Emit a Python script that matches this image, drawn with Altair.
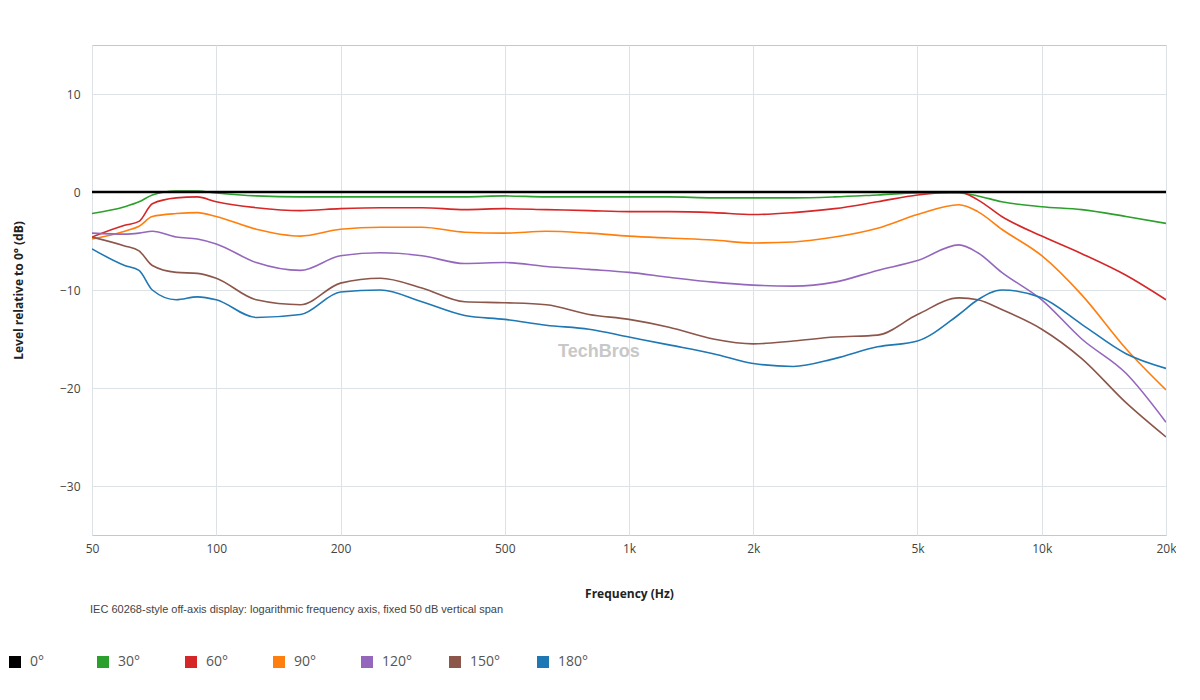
import altair as alt
import pandas as pd

angles = ["0°", "30°", "60°", "90°", "120°", "150°", "180°"]
colors = ["#000000", "#2ca02c", "#d62728", "#ff7f0e", "#9467bd", "#8c564b", "#1f77b4"]

freq = [50, 60, 65, 70, 80, 90, 100, 125, 160, 200, 250, 315, 400, 500, 630, 800,
        1000, 1250, 1600, 2000, 2500, 3150, 4000, 5000, 6300, 7000, 8000, 10000,
        12500, 16000, 20000]

lvl_0 = [0] * len(freq)
lvl_30 = [-2.2, -1.5, -1.0, -0.3, 0.1, 0.1, -0.1, -0.4, -0.5, -0.5, -0.5, -0.5, -0.5, -0.4, -0.5, -0.5,
          -0.5, -0.5, -0.6, -0.6, -0.6, -0.5, -0.3, -0.1, -0.1, -0.4, -1.0, -1.5,
          -1.8, -2.5, -3.2]
lvl_60 = [-4.6, -3.4, -3.0, -1.2, -0.6, -0.5, -1.0, -1.6, -1.9, -1.7, -1.6, -1.6, -1.8, -1.7, -1.8, -1.9,
          -2.0, -2.0, -2.1, -2.3, -2.1, -1.7, -1.0, -0.3, 0.0, -0.8, -2.5, -4.5,
          -6.3, -8.5, -11.0]
lvl_90 = [-4.8, -4.0, -3.5, -2.5, -2.2, -2.1, -2.5, -3.8, -4.5, -3.8, -3.6, -3.6, -4.1, -4.2, -4.0, -4.2,
          -4.5, -4.7, -4.9, -5.2, -5.1, -4.6, -3.7, -2.3, -1.3, -2.0, -3.8, -6.5,
          -10.5, -16.0, -20.2]
lvl_120 = [-4.2, -4.3, -4.2, -4.0, -4.6, -4.8, -5.3, -7.2, -8.0, -6.5, -6.2, -6.5, -7.3, -7.2, -7.6, -7.9,
           -8.2, -8.7, -9.2, -9.5, -9.6, -9.2, -8.0, -7.0, -5.4, -6.2, -8.2, -11.0,
           -15.0, -18.5, -23.5]
lvl_150 = [-4.6, -5.5, -6.0, -7.5, -8.2, -8.3, -8.8, -11.0, -11.5, -9.3, -8.8, -9.8, -11.2, -11.3, -11.5, -12.5,
           -13.0, -13.8, -15.0, -15.5, -15.2, -14.8, -14.6, -12.5, -10.8, -11.0, -12.0, -14.0,
           -17.0, -21.5, -25.0]
lvl_180 = [-5.8, -7.5, -8.0, -10.0, -11.0, -10.7, -11.0, -12.8, -12.5, -10.2, -10.0, -11.2, -12.6, -13.0, -13.6, -14.0,
           -14.8, -15.6, -16.5, -17.5, -17.8, -17.0, -15.8, -15.2, -12.5, -11.0, -10.0, -10.8,
           -13.5, -16.5, -18.0]

series = [lvl_0, lvl_30, lvl_60, lvl_90, lvl_120, lvl_150, lvl_180]
rows = []
for a, vals in zip(angles, series):
    for f, v in zip(freq, vals):
        rows.append({"Frequency": f, "Level": v, "Angle": a})
df = pd.DataFrame(rows)

tick_vals = [50, 100, 200, 500, 1000, 2000, 5000, 10000, 20000]

base = alt.Chart(df).encode(
    x=alt.X("Frequency:Q", title="Frequency (Hz)",
            scale=alt.Scale(type="log", domain=[50, 20000], nice=False),
            axis=alt.Axis(values=tick_vals, titlePadding=34, labelPadding=8, labelFlush=False,
                          labelExpr="datum.value >= 1000 ? (datum.value / 1000) + 'k' : datum.value")),
    y=alt.Y("Level:Q", title="Level relative to 0° (dB)",
            scale=alt.Scale(domain=[-35, 15], nice=False),
            axis=alt.Axis(values=[-30, -20, -10, 0, 10], titlePadding=34, labelPadding=12)),
)

others = base.transform_filter(alt.datum.Angle != "0°").mark_line(
    interpolate="monotone", clip=True, strokeWidth=1.6).encode(
    color=alt.Color("Angle:N", sort=angles, title=None,
                    scale=alt.Scale(domain=angles, range=colors),
                    legend=alt.Legend(orient="none", legendX=-84, legendY=610, direction="horizontal",
                                      columns=7, symbolType="square", symbolSize=36, symbolStrokeWidth=6,
                                      labelFontSize=14, labelColor="#555", columnPadding=27,
                                      gridAlign="all", labelOffset=8)),
)
ref = base.transform_filter(alt.datum.Angle == "0°").mark_line(
    clip=True, strokeWidth=2.5, color="#000000")

watermark = alt.Chart(pd.DataFrame({"t": ["TechBros"]})).mark_text(
    fontSize=18, color="#c8c8c8", fontWeight="bold", align="left"
).encode(x=alt.value(466), y=alt.value(307), text="t:N")

caption = alt.Chart(pd.DataFrame({"t": ["IEC 60268-style off-axis display: logarithmic frequency axis, fixed 50 dB vertical span"]})).mark_text(
    fontSize=11, color="#444", align="left"
).encode(x=alt.value(-2), y=alt.value(565), text="t:N")

chart = alt.layer(others, ref, watermark, caption).properties(
    width=1074, height=490,
    autosize=alt.AutoSizeParams(type="none"),
    padding={"left": 84, "top": 37, "right": 10, "bottom": 160},
).configure_view(stroke="#c0c8d0").configure_axis(
    gridColor="#dde2e6", domain=False, ticks=False, labelFontSize=12, labelColor="#444",
    titleFontSize=12, titleColor="#222", titleFontWeight="bold", labelFont="Open Sans", titleFont="Open Sans"
).configure_legend(labelFont="Open Sans")

chart.save("out.html", embed_options={"renderer": "svg", "actions": False})
